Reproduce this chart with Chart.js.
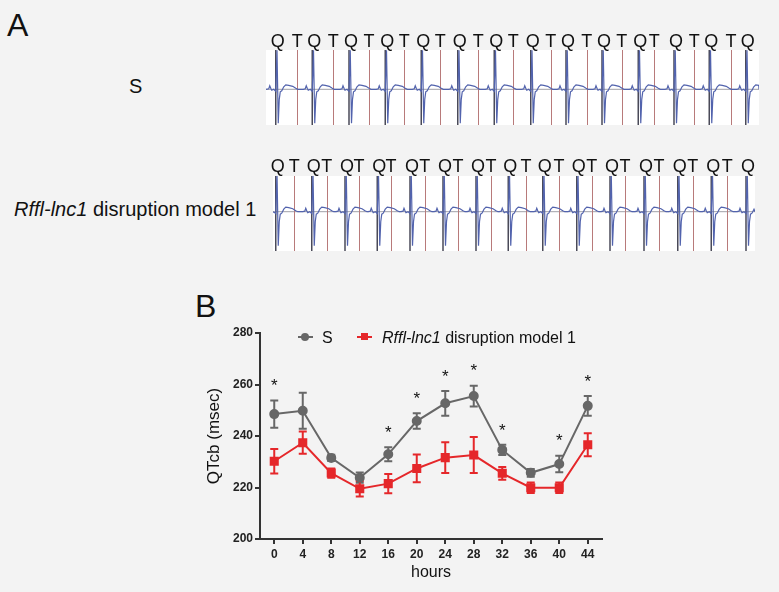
<!DOCTYPE html>
<html>
<head>
<meta charset="utf-8">
<script src="https://cdn.jsdelivr.net/npm/chart.js@4.4.1/dist/chart.umd.min.js"></script>
<style>
  body { margin: 0; background: #f3f3f3; font-family: "Liberation Sans", Arial, sans-serif; }
  #page { position: relative; width: 779px; height: 592px; overflow: hidden; }
  .lbl { position: absolute; white-space: nowrap; color: #111; }
  canvas { position: absolute; }
</style>
</head>
<body>
<div id="page">
  <div class="lbl" style="left:7px;top:9px;font-size:32px;line-height:32px;">A</div>
  <div class="lbl" style="left:195px;top:290px;font-size:32px;line-height:32px;">B</div>
  <div class="lbl" style="left:129px;top:76px;font-size:20px;line-height:20px;">S</div>
  <div class="lbl" style="left:14px;top:199px;font-size:20px;line-height:20px;"><i>Rffl-lnc1</i> disruption model 1</div>

  <canvas id="stripS" width="519" height="112" style="left:260px;top:20px;width:519px;height:112px;"></canvas>
  <canvas id="stripR" width="519" height="112" style="left:260px;top:145px;width:519px;height:112px;"></canvas>
  <canvas id="qtChart" width="470" height="312" style="left:150px;top:280px;width:470px;height:312px;"></canvas>

  <!-- legend -->
  <div class="lbl" style="left:298px;top:336px;width:15px;height:2px;background:#676767;"></div>
  <div class="lbl" style="left:301px;top:333px;width:8px;height:8px;border-radius:50%;background:#676767;"></div>
  <div class="lbl" style="left:322px;top:330px;font-size:16px;line-height:16px;">S</div>
  <div class="lbl" style="left:357px;top:336px;width:15px;height:2px;background:#e5272a;"></div>
  <div class="lbl" style="left:361px;top:333px;width:7px;height:7px;background:#e5272a;"></div>
  <div class="lbl" style="left:382px;top:330px;font-size:16px;line-height:16px;"><i>Rffl-lnc1</i> disruption model 1</div>
</div>

<script>
// ---- Panel B data ----
const hours = ['0', '4', '8', '12', '16', '20', '24', '28', '32', '36', '40', '44'];
const sMean = [248.5, 249.8, 231.5, 223.8, 232.9, 245.8, 252.7, 255.5, 234.6, 225.7, 229.1, 251.7];
const sSem = [5.3, 7.0, 1.2, 2.0, 2.7, 3.0, 4.8, 4.0, 2.0, 1.5, 3.2, 3.8];
const rMean = [230.2, 237.4, 225.6, 219.5, 221.5, 227.4, 231.6, 232.6, 225.5, 219.9, 219.9, 236.6];
const rSem = [4.8, 4.3, 1.8, 3.0, 3.7, 5.4, 6.0, 7.0, 2.5, 2.0, 2.0, 4.5];
const sigHours = ['0', '16', '20', '24', '28', '32', '40', '44'];
const sigLevel = [261.4, 243.0, 256.3, 264.7, 267.3, 243.9, 240.0, 263.0];

// ---- Panel A data (times in ms, amplitude in mV) ----
const beatOffsets = [-36, -28, -24, -20, -16, -8, -4, 0, 5, 10, 14, 18, 24, 32, 40, 52, 68, 80, 88];
const beatAmps = [0, 0.01, 0.07, 0.02, -0.02, 0, -0.02, -0.04, 0.78, -0.68, -0.2, -0.05, -0.03, 0.05, 0.09, 0.08, 0.06, 0.02, 0];
const qTimesS = [39, 185, 332, 477, 621, 767, 913, 1059, 1200, 1344, 1489, 1632, 1773, 1919];
const tTimesS = [125, 269, 412, 553, 697, 849, 989, 1139, 1283, 1423, 1553, 1713, 1860];
const qTimesR = [11, 155, 288, 417, 548, 680, 812, 941, 1079, 1215, 1348, 1484, 1619, 1753, 1892];
const tTimesR = [85, 215, 344, 472, 607, 740, 872, 1012, 1144, 1275, 1408, 1544, 1679, 1817];

const GRAY = '#676767';
const RED = '#e5272a';

// Build an ECG trace by placing the beat shape at each Q time
function buildTrace(qTimes, endTime) {
    const pts = [{ x: 0, y: 0 }];
    qTimes.forEach(q => {
        beatOffsets.forEach((off, k) => {
            const t = q + off;
            if (t > 0 && t < endTime) pts.push({ x: t, y: beatAmps[k] });
        });
    });
    pts.push({ x: endTime, y: 0 });
    return pts;
}

// Background, baseline, Q/T marker lines and letters for the ECG strips
const stripMarks = {
    id: 'stripMarks',
    beforeDraw(chart) {
        const { ctx, chartArea: a } = chart;
        ctx.save();
        ctx.fillStyle = '#ffffff';
        ctx.fillRect(a.left, a.top, a.right - a.left, a.bottom - a.top);
        ctx.restore();
    },
    beforeDatasetsDraw(chart, args, opts) {
        const { ctx, chartArea: a, scales } = chart;
        ctx.save();
        const y0 = scales.y.getPixelForValue(0);
        ctx.strokeStyle = '#a0a0a8';
        ctx.lineWidth = 1;
        ctx.beginPath();
        ctx.moveTo(a.left, y0);
        ctx.lineTo(a.right, y0);
        ctx.stroke();
        ctx.strokeStyle = '#b87a7a';
        opts.tTimes.forEach(t => {
            const x = Math.round(scales.x.getPixelForValue(t)) + 0.5;
            ctx.beginPath();
            ctx.moveTo(x, a.top);
            ctx.lineTo(x, a.bottom);
            ctx.stroke();
        });
        ctx.strokeStyle = '#4a4a58';
        ctx.lineWidth = 1.5;
        opts.qTimes.forEach(t => {
            const x = scales.x.getPixelForValue(t);
            ctx.beginPath();
            ctx.moveTo(x, a.top);
            ctx.lineTo(x, a.bottom);
            ctx.stroke();
        });
        ctx.restore();
    },
    afterDraw(chart, args, opts) {
        const { ctx, chartArea: a, scales } = chart;
        ctx.save();
        ctx.font = '18px "Liberation Sans", Arial, sans-serif';
        ctx.fillStyle = '#111';
        ctx.textAlign = 'center';
        ctx.textBaseline = 'alphabetic';
        const yText = a.top - opts.gap;
        opts.qTimes.forEach(t => ctx.fillText('Q', scales.x.getPixelForValue(t) + 2, yText));
        opts.tTimes.forEach(t => ctx.fillText('T', scales.x.getPixelForValue(t), yText));
        ctx.restore();
    }
};

function makeStrip(id, qTimes, tTimes, endTime, yMin, yMax, padding, gap) {
    new Chart(document.getElementById(id), {
        type: 'line',
        data: {
            datasets: [{
                data: buildTrace(qTimes, endTime),
                borderColor: '#5263ad',
                borderWidth: 1.2,
                pointRadius: 0,
                tension: 0
            }]
        },
        options: {
            responsive: false,
            animation: false,
            devicePixelRatio: 1,
            layout: { padding: padding },
            plugins: {
                legend: { display: false },
                tooltip: { enabled: false },
                stripMarks: { qTimes: qTimes, tTimes: tTimes, gap: gap }
            },
            scales: {
                x: { type: 'linear', min: 0, max: endTime, display: false },
                y: { min: yMin, max: yMax, display: false }
            }
        },
        plugins: [stripMarks]
    });
}

makeStrip('stripS', qTimesS, tTimesS, 1972, -0.714, 0.786, { left: 6, right: 20, top: 30, bottom: 7 }, 3);
makeStrip('stripR', qTimesR, tTimesR, 1928, -0.786, 0.714, { left: 13, right: 24, top: 31, bottom: 6 }, 4);

// Error bars (mean ± SEM) drawn from each dataset's errors array
const errorBars = {
    id: 'errorBars',
    beforeDatasetsDraw(chart) {
        const { ctx, scales } = chart;
        ctx.save();
        chart.data.datasets.forEach((ds, i) => {
            if (!ds.errors) return;
            const meta = chart.getDatasetMeta(i);
            ctx.strokeStyle = ds.borderColor;
            ctx.lineWidth = 2;
            meta.data.forEach((pt, j) => {
                const top = scales.y.getPixelForValue(ds.data[j] + ds.errors[j]);
                const bot = scales.y.getPixelForValue(ds.data[j] - ds.errors[j]);
                ctx.beginPath();
                ctx.moveTo(pt.x, top);
                ctx.lineTo(pt.x, bot);
                ctx.moveTo(pt.x - 4, top);
                ctx.lineTo(pt.x + 4, top);
                ctx.moveTo(pt.x - 4, bot);
                ctx.lineTo(pt.x + 4, bot);
                ctx.stroke();
            });
        });
        ctx.restore();
    }
};

// Significance asterisks
const sigStars = {
    id: 'sigStars',
    afterDatasetsDraw(chart) {
        const { ctx, scales } = chart;
        ctx.save();
        ctx.font = '17px "Liberation Sans", Arial, sans-serif';
        ctx.fillStyle = '#111';
        ctx.textAlign = 'center';
        ctx.textBaseline = 'alphabetic';
        sigHours.forEach((h, i) => {
            const x = scales.x.getPixelForValue(hours.indexOf(h));
            const y = scales.y.getPixelForValue(sigLevel[i]);
            ctx.fillText('*', x, y + 10);
        });
        ctx.restore();
    }
};

const tickFont = { family: '"Liberation Sans", Arial, sans-serif', size: 12, weight: 'bold' };

new Chart(document.getElementById('qtChart'), {
    type: 'line',
    data: {
        labels: hours,
        datasets: [
            {
                label: 'S',
                data: sMean,
                errors: sSem,
                borderColor: GRAY,
                backgroundColor: GRAY,
                borderWidth: 2,
                pointStyle: 'circle',
                pointRadius: 4,
                tension: 0
            },
            {
                label: 'Rffl-lnc1 disruption model 1',
                data: rMean,
                errors: rSem,
                borderColor: RED,
                backgroundColor: RED,
                borderWidth: 2,
                pointStyle: 'rect',
                pointRadius: 5,
                tension: 0
            }
        ]
    },
    options: {
        responsive: false,
        animation: false,
        devicePixelRatio: 1,
        layout: { padding: { top: 53, right: 18, left: 0, bottom: 0 } },
        plugins: {
            legend: { display: false },
            tooltip: { enabled: false }
        },
        scales: {
            x: {
                type: 'category',
                offset: true,
                grid: { drawOnChartArea: false, drawTicks: true, tickLength: 5, color: '#333', lineWidth: 2 },
                border: { display: true, color: '#333', width: 2 },
                ticks: { font: tickFont, color: '#222', padding: 3, maxRotation: 0 },
                title: {
                    display: true, text: 'hours', color: '#111',
                    font: { family: '"Liberation Sans", Arial, sans-serif', size: 16 },
                    padding: { top: 0, bottom: 10 }
                },
                afterFit(scale) { scale.height = 53; }
            },
            y: {
                min: 200,
                max: 280,
                grid: { drawOnChartArea: false, drawTicks: true, tickLength: 5, color: '#333', lineWidth: 2 },
                border: { display: true, color: '#333', width: 2 },
                ticks: { stepSize: 20, font: tickFont, color: '#222', padding: 2 },
                title: {
                    display: true, text: 'QTcb (msec)', color: '#111',
                    font: { family: '"Liberation Sans", Arial, sans-serif', size: 17 },
                    padding: { top: 54, bottom: 0 }
                },
                afterFit(scale) { scale.width = 110; }
            }
        }
    },
    plugins: [errorBars, sigStars]
});
</script>
</body>
</html>
